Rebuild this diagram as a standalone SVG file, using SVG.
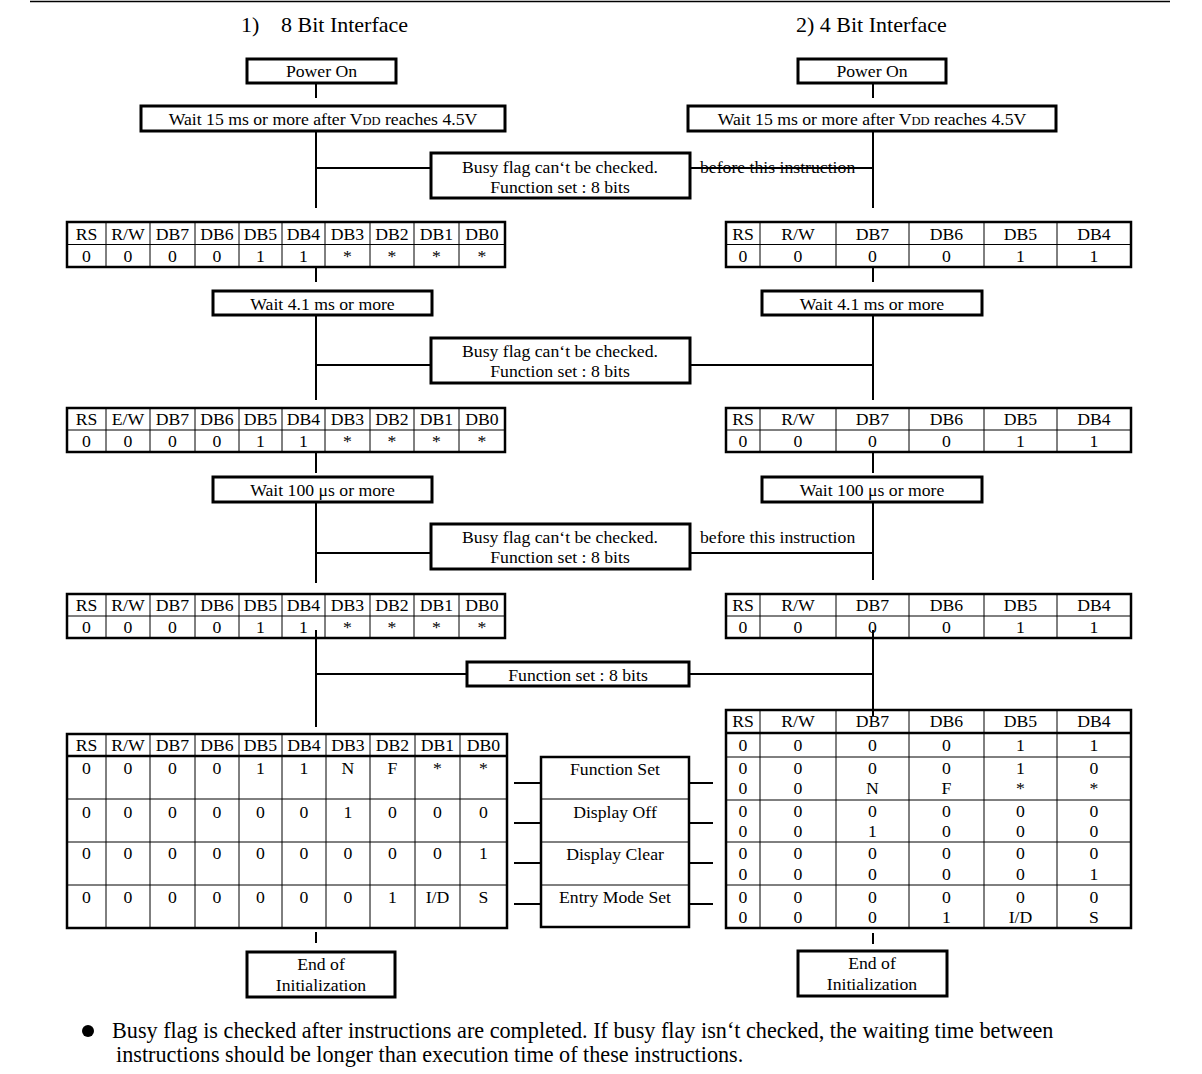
<svg xmlns="http://www.w3.org/2000/svg" width="1202" height="1074" viewBox="0 0 1202 1074">
<style>
text{font-family:"Liberation Serif","Times New Roman",serif;font-size:17.7px;fill:#000;text-anchor:middle}
.title{font-size:22px;text-anchor:start}
.note{font-size:22.2px;text-anchor:start}
.lbl{text-anchor:start}
.box{fill:#fff;stroke:#000;stroke-width:3}
.grid{fill:none;stroke:#000;stroke-width:1}
.thick{fill:none;stroke:#000;stroke-width:2.5}
.con{fill:none;stroke:#000;stroke-width:2}
</style>
<rect width="1202" height="1074" fill="#fff"/>
<line x1="30" y1="1.5" x2="1170" y2="1.5" stroke="#000" stroke-width="1.5"/>
<g id="titles">
<text class="title" x="241" y="32">1)</text>
<text class="title" x="281" y="32">8 Bit Interface</text>
<text class="title" x="796" y="32">2) 4 Bit Interface</text>
</g>
<g id="connectors">
<path class="con" d="M316 83V98M873 83V98"/>
<path class="con" d="M316 131V208M316 168H431M873 131V208M690 168H873"/>
<path class="con" d="M316 267V282M873 267V282"/>
<path class="con" d="M316 315V400M316 365H431M873 315V400M690 365H873"/>
<path class="con" d="M316 452V473M873 452V473"/>
<path class="con" d="M316 502V583M316 553H431M873 502V580M690 553H873"/>
<path class="con" d="M316 630V727M316 674H467M873 630V712M689 674H873"/>
<path class="con" d="M514 783H541M514 823H541M514 863H541M514 904H541"/>
<path class="con" d="M689 783H713M689 823H713M689 863H713M689 904H713"/>
<path class="con" d="M316 932V943M873 933V944"/>
</g>
<g id="note-before1"><text class="lbl" x="700" y="173">before this instruction</text></g>
<g id="note-before3"><text class="lbl" x="700" y="543">before this instruction</text></g>
<g id="L-power"><rect class="box" x="247" y="59" width="149" height="24"/><text x="321.5" y="77">Power On</text></g>
<g id="R-power"><rect class="box" x="798" y="59" width="148" height="24"/><text x="872" y="77">Power On</text></g>
<g id="L-wait15"><rect class="box" x="141" y="106" width="364" height="25"/><text x="323" y="125">Wait 15 ms or more after V<tspan font-size="12.5">DD</tspan> reaches 4.5V</text></g>
<g id="R-wait15"><rect class="box" x="688" y="106" width="368" height="25"/><text x="872" y="125">Wait 15 ms or more after V<tspan font-size="12.5">DD</tspan> reaches 4.5V</text></g>
<g id="busy1"><rect class="box" x="431" y="153" width="259" height="45"/><text x="560" y="173">Busy flag can‘t be checked.</text><text x="560" y="193">Function set : 8 bits</text></g>
<g id="busy2"><rect class="box" x="431" y="338" width="259" height="45"/><text x="560" y="357">Busy flag can‘t be checked.</text><text x="560" y="377">Function set : 8 bits</text></g>
<g id="busy3"><rect class="box" x="431" y="524" width="259" height="45"/><text x="560" y="543">Busy flag can‘t be checked.</text><text x="560" y="563">Function set : 8 bits</text></g>
<g id="fset"><rect class="box" x="467" y="662" width="222" height="24"/><text x="578" y="681">Function set : 8 bits</text></g>
<g id="L-wait41"><rect class="box" x="213" y="291" width="219" height="24"/><text x="322.5" y="310">Wait 4.1 ms or more</text></g>
<g id="R-wait41"><rect class="box" x="762" y="291" width="220" height="24"/><text x="872" y="310">Wait 4.1 ms or more</text></g>
<g id="L-wait100"><rect class="box" x="213" y="477" width="219" height="25"/><text x="322.5" y="496">Wait 100 μs or more</text></g>
<g id="R-wait100"><rect class="box" x="762" y="477" width="220" height="25"/><text x="872" y="496">Wait 100 μs or more</text></g>

<g id="L-table1">
<rect class="thick" x="67" y="222" width="438" height="45" fill="#fff"/>
<path class="grid" d="M67 244.5H505M106 222V267M150 222V267M195 222V267M239 222V267M282 222V267M325 222V267M370 222V267M414 222V267M459 222V267"/>
<text x="86.5" y="240">RS</text><text x="128" y="240">R/W</text><text x="172.5" y="240">DB7</text><text x="217" y="240">DB6</text><text x="260.5" y="240">DB5</text><text x="303.5" y="240">DB4</text><text x="347.5" y="240">DB3</text><text x="392" y="240">DB2</text><text x="436.5" y="240">DB1</text><text x="482" y="240">DB0</text>
<text x="86.5" y="262">0</text><text x="128" y="262">0</text><text x="172.5" y="262">0</text><text x="217" y="262">0</text><text x="260.5" y="262">1</text><text x="303.5" y="262">1</text><text x="347.5" y="262">*</text><text x="392" y="262">*</text><text x="436.5" y="262">*</text><text x="482" y="262">*</text>
</g>
<g id="L-table2">
<rect class="thick" x="67" y="408" width="438" height="44" fill="#fff"/>
<path class="grid" d="M67 430H505M106 408V452M150 408V452M195 408V452M239 408V452M282 408V452M325 408V452M370 408V452M414 408V452M459 408V452"/>
<text x="86.5" y="425">RS</text><text x="128" y="425">E/W</text><text x="172.5" y="425">DB7</text><text x="217" y="425">DB6</text><text x="260.5" y="425">DB5</text><text x="303.5" y="425">DB4</text><text x="347.5" y="425">DB3</text><text x="392" y="425">DB2</text><text x="436.5" y="425">DB1</text><text x="482" y="425">DB0</text>
<text x="86.5" y="447">0</text><text x="128" y="447">0</text><text x="172.5" y="447">0</text><text x="217" y="447">0</text><text x="260.5" y="447">1</text><text x="303.5" y="447">1</text><text x="347.5" y="447">*</text><text x="392" y="447">*</text><text x="436.5" y="447">*</text><text x="482" y="447">*</text>
</g>
<g id="L-table3">
<rect class="thick" x="67" y="594" width="438" height="44" fill="#fff"/>
<path class="grid" d="M67 616H505M106 594V638M150 594V638M195 594V638M239 594V638M282 594V638M325 594V638M370 594V638M414 594V638M459 594V638"/>
<text x="86.5" y="611">RS</text><text x="128" y="611">R/W</text><text x="172.5" y="611">DB7</text><text x="217" y="611">DB6</text><text x="260.5" y="611">DB5</text><text x="303.5" y="611">DB4</text><text x="347.5" y="611">DB3</text><text x="392" y="611">DB2</text><text x="436.5" y="611">DB1</text><text x="482" y="611">DB0</text>
<text x="86.5" y="633">0</text><text x="128" y="633">0</text><text x="172.5" y="633">0</text><text x="217" y="633">0</text><text x="260.5" y="633">1</text><text x="303.5" y="633">1</text><text x="347.5" y="633">*</text><text x="392" y="633">*</text><text x="436.5" y="633">*</text><text x="482" y="633">*</text>
</g>

<g id="R-table1">
<rect class="thick" x="726" y="222" width="405" height="45" fill="#fff"/>
<path class="grid" d="M726 244.5H1131M760 222V267M836 222V267M909 222V267M984 222V267M1057 222V267"/>
<text x="743" y="240">RS</text><text x="798" y="240">R/W</text><text x="872.5" y="240">DB7</text><text x="946.5" y="240">DB6</text><text x="1020.5" y="240">DB5</text><text x="1094" y="240">DB4</text>
<text x="743" y="262">0</text><text x="798" y="262">0</text><text x="872.5" y="262">0</text><text x="946.5" y="262">0</text><text x="1020.5" y="262">1</text><text x="1094" y="262">1</text>
</g>
<g id="R-table2">
<rect class="thick" x="726" y="408" width="405" height="44" fill="#fff"/>
<path class="grid" d="M726 430H1131M760 408V452M836 408V452M909 408V452M984 408V452M1057 408V452"/>
<text x="743" y="425">RS</text><text x="798" y="425">R/W</text><text x="872.5" y="425">DB7</text><text x="946.5" y="425">DB6</text><text x="1020.5" y="425">DB5</text><text x="1094" y="425">DB4</text>
<text x="743" y="447">0</text><text x="798" y="447">0</text><text x="872.5" y="447">0</text><text x="946.5" y="447">0</text><text x="1020.5" y="447">1</text><text x="1094" y="447">1</text>
</g>
<g id="R-table3">
<rect class="thick" x="726" y="594" width="405" height="44" fill="#fff"/>
<path class="grid" d="M726 616H1131M760 594V638M836 594V638M909 594V638M984 594V638M1057 594V638"/>
<text x="743" y="611">RS</text><text x="798" y="611">R/W</text><text x="872.5" y="611">DB7</text><text x="946.5" y="611">DB6</text><text x="1020.5" y="611">DB5</text><text x="1094" y="611">DB4</text>
<text x="743" y="633">0</text><text x="798" y="633">0</text><text x="872.5" y="633">0</text><text x="946.5" y="633">0</text><text x="1020.5" y="633">1</text><text x="1094" y="633">1</text>
</g>
<path class="con" d="M316 630V638M873 630V638"/>

<g id="L-table4">
<rect class="thick" x="67" y="734" width="440" height="194" fill="#fff"/>
<path class="grid" d="M67 799H507M67 842H507M67 885H507M106 734V928M150 734V928M195 734V928M239 734V928M282 734V928M326 734V928M370 734V928M415 734V928M460 734V928"/>
<path class="thick" d="M67 756H507"/>
<text x="86.5" y="751">RS</text><text x="128" y="751">R/W</text><text x="172.5" y="751">DB7</text><text x="217" y="751">DB6</text><text x="260.5" y="751">DB5</text><text x="304" y="751">DB4</text><text x="348" y="751">DB3</text><text x="392.5" y="751">DB2</text><text x="437.5" y="751">DB1</text><text x="483.5" y="751">DB0</text>
<text x="86.5" y="774">0</text><text x="128" y="774">0</text><text x="172.5" y="774">0</text><text x="217" y="774">0</text><text x="260.5" y="774">1</text><text x="304" y="774">1</text><text x="348" y="774">N</text><text x="392.5" y="774">F</text><text x="437.5" y="774">*</text><text x="483.5" y="774">*</text>
<text x="86.5" y="818">0</text><text x="128" y="818">0</text><text x="172.5" y="818">0</text><text x="217" y="818">0</text><text x="260.5" y="818">0</text><text x="304" y="818">0</text><text x="348" y="818">1</text><text x="392.5" y="818">0</text><text x="437.5" y="818">0</text><text x="483.5" y="818">0</text>
<text x="86.5" y="859">0</text><text x="128" y="859">0</text><text x="172.5" y="859">0</text><text x="217" y="859">0</text><text x="260.5" y="859">0</text><text x="304" y="859">0</text><text x="348" y="859">0</text><text x="392.5" y="859">0</text><text x="437.5" y="859">0</text><text x="483.5" y="859">1</text>
<text x="86.5" y="903">0</text><text x="128" y="903">0</text><text x="172.5" y="903">0</text><text x="217" y="903">0</text><text x="260.5" y="903">0</text><text x="304" y="903">0</text><text x="348" y="903">0</text><text x="392.5" y="903">1</text><text x="437.5" y="903">I/D</text><text x="483.5" y="903">S</text>
</g>

<g id="instructions">
<rect class="thick" x="541" y="757" width="148" height="170" fill="#fff"/>
<path class="grid" d="M541 799H689M541 842H689M541 885H689"/>
<text x="615" y="775">Function Set</text>
<text x="615" y="818">Display Off</text>
<text x="615" y="860">Display Clear</text>
<text x="615" y="903">Entry Mode Set</text>
</g>

<g id="R-table4">
<rect class="thick" x="726" y="710" width="405" height="218" fill="#fff"/>
<path class="grid" d="M726 757H1131M726 800H1131M726 842H1131M726 885H1131M760 710V928M836 710V928M909 710V928M984 710V928M1057 710V928"/>
<path class="thick" d="M726 733H1131"/>
<text x="743" y="727">RS</text><text x="798" y="727">R/W</text><text x="872.5" y="727">DB7</text><text x="946.5" y="727">DB6</text><text x="1020.5" y="727">DB5</text><text x="1094" y="727">DB4</text>
<text x="743" y="751">0</text><text x="798" y="751">0</text><text x="872.5" y="751">0</text><text x="946.5" y="751">0</text><text x="1020.5" y="751">1</text><text x="1094" y="751">1</text>
<text x="743" y="774">0</text><text x="798" y="774">0</text><text x="872.5" y="774">0</text><text x="946.5" y="774">0</text><text x="1020.5" y="774">1</text><text x="1094" y="774">0</text>
<text x="743" y="794">0</text><text x="798" y="794">0</text><text x="872.5" y="794">N</text><text x="946.5" y="794">F</text><text x="1020.5" y="794">*</text><text x="1094" y="794">*</text>
<text x="743" y="817">0</text><text x="798" y="817">0</text><text x="872.5" y="817">0</text><text x="946.5" y="817">0</text><text x="1020.5" y="817">0</text><text x="1094" y="817">0</text>
<text x="743" y="837">0</text><text x="798" y="837">0</text><text x="872.5" y="837">1</text><text x="946.5" y="837">0</text><text x="1020.5" y="837">0</text><text x="1094" y="837">0</text>
<text x="743" y="859">0</text><text x="798" y="859">0</text><text x="872.5" y="859">0</text><text x="946.5" y="859">0</text><text x="1020.5" y="859">0</text><text x="1094" y="859">0</text>
<text x="743" y="880">0</text><text x="798" y="880">0</text><text x="872.5" y="880">0</text><text x="946.5" y="880">0</text><text x="1020.5" y="880">0</text><text x="1094" y="880">1</text>
<text x="743" y="903">0</text><text x="798" y="903">0</text><text x="872.5" y="903">0</text><text x="946.5" y="903">0</text><text x="1020.5" y="903">0</text><text x="1094" y="903">0</text>
<text x="743" y="923">0</text><text x="798" y="923">0</text><text x="872.5" y="923">0</text><text x="946.5" y="923">1</text><text x="1020.5" y="923">I/D</text><text x="1094" y="923">S</text>
</g>
<path class="con" d="M873 706V716"/>

<g id="L-end"><rect class="box" x="247" y="952" width="148" height="45"/><text x="321" y="970">End of</text><text x="321" y="991">Initialization</text></g>
<g id="R-end"><rect class="box" x="798" y="951" width="149" height="45"/><text x="872" y="969">End of</text><text x="872" y="990">Initialization</text></g>

<g id="footnote">
<circle cx="88" cy="1031" r="6" fill="#000"/>
<text class="note" x="112" y="1038">Busy flag is checked after instructions are completed. If busy flay isn‘t checked, the waiting time between</text>
<text class="note" x="116" y="1062">instructions should be longer than execution time of these instructions.</text>
</g>
</svg>
